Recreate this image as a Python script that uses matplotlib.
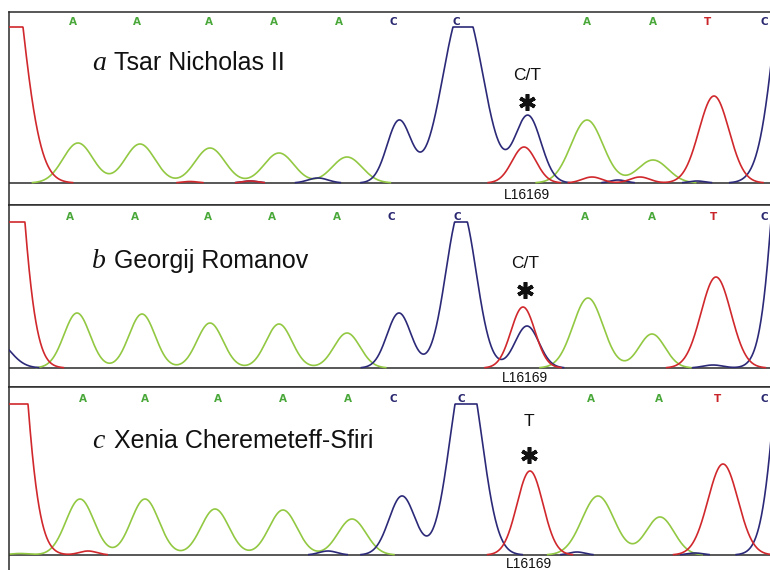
import numpy as np
import matplotlib
matplotlib.use("Agg")
import matplotlib.pyplot as plt

# ---------------- data (peak tables) ----------------
# each peak: (scan position, height above baseline, width)
A_GREEN = [(78, 40, 15), (140, 39, 15), (210, 35, 15), (279, 30, 15), (347, 26, 15),
           (587, 63, 16), (653, 23, 15)]
A_RED = [(0, 302, 20), (190, 1.5, 8), (250, 2, 8), (524, 36, 12), (592, 6, 10),
         (640, 6, 10), (714, 87, 15)]
A_BLUE = [(250, 2, 8), (318, 5, 10), (399, 62, 12), (463, 177, 20), (528, 67, 13),
          (618, 3, 8), (697, 2, 8), (795, 289, 18)]

B_GREEN = [(77, 55, 13), (142, 54, 13), (210, 45, 13), (279, 44, 13), (347, 35, 13),
           (588, 70, 15), (652, 34, 13)]
B_RED = [(0, 428, 17), (523, 61, 12), (716, 91, 15)]
B_BLUE = [(-5, 28, 15), (399, 55, 12), (461, 160, 15), (527, 42, 12), (713, 3, 10),
          (795, 458, 16)]

C_GREEN = [(20, 1.5, 10), (80, 56, 14), (145, 56, 14), (215, 46, 14), (283, 45, 14),
           (352, 36, 14), (598, 59, 16), (660, 38, 14)]
C_RED = [(0, 507, 18), (88, 4, 9), (530, 84, 13), (723, 91, 15)]
C_BLUE = [(328, 4, 9), (402, 59, 13), (466, 191, 16), (577, 3, 8), (695, 2, 8),
          (795, 356, 16)]

CLIP_LEVELS = [156, 146, 151]

BASES = ["A", "A", "A", "A", "A", "C", "C", "A", "A", "T", "C"]
A_BASE_POS = [73, 137, 209, 274, 339, 393, 456, 587, 653, 708, 764]
B_BASE_POS = [70, 135, 208, 272, 337, 391, 457, 585, 652, 713, 764]
C_BASE_POS = [83, 145, 218, 283, 348, 393, 461, 591, 659, 717, 764]

LETTERS = ["a", "b", "c"]
NAMES = ["Tsar Nicholas II", "Georgij Romanov", "Xenia Cheremeteff-Sfiri"]
CALLS = ["C/T", "C/T", "T"]
SNP_POS = [527, 525, 529]
SITE = "L16169"

# ---------------- styling / layout ----------------
W, H = 770, 570
GREEN, RED, BLUE = "#92c842", "#d0282c", "#2c2a78"
BASE_COL = {"A": "#4aa83a", "C": "#28266e", "T": "#c8242a"}
EDGE = "#2a2a2a"

# panel geometry in pixels: top line, baseline, strip bottom
PANELS = [(12, 183, 205), (205, 368, 387), (387, 555, 572)]
LETTER_ROW = [161, 151, 156]      # height of base-call row above baseline
TITLE_Y = [113, 100, 107]
CALL_Y = [108, 104, 133]
STAR_Y = [81, 78, 100]
SITE_Y = [-12, -10, -9]

greens = [A_GREEN, B_GREEN, C_GREEN]
reds = [A_RED, B_RED, C_RED]
blues = [A_BLUE, B_BLUE, C_BLUE]
base_pos = [A_BASE_POS, B_BASE_POS, C_BASE_POS]

fig = plt.figure(figsize=(W / 100, H / 100), dpi=100)
fig.patch.set_facecolor("white")

x = np.linspace(9, 775, 3000)


def trace(peaks, clip):
    y = np.zeros_like(x)
    for c, h, w in peaks:
        y += h * np.exp(-(x - c) ** 2 / (2.0 * w ** 2))
    y = np.minimum(y, clip)
    return np.where(y < 0.4, np.nan, y)


for i, (top, base, bot) in enumerate(PANELS):
    left_px, right_px = 9, 775
    ax = fig.add_axes([left_px / W, 1 - bot / H, (right_px - left_px) / W, (bot - top) / H])
    ax.set_xlim(left_px, right_px)
    ax.set_ylim(-(bot - base), base - top)
    ax.set_xticks([])
    ax.set_yticks([])
    for s in ["top", "left", "bottom"]:
        ax.spines[s].set_color(EDGE)
        ax.spines[s].set_linewidth(1.1)
    ax.spines["right"].set_visible(False)
    ax.axhline(0, color=EDGE, lw=1.1, zorder=1)

    clip = CLIP_LEVELS[i]
    ax.plot(x, trace(greens[i], clip), color=GREEN, lw=1.2, zorder=2)
    ax.plot(x, trace(blues[i], clip), color=BLUE, lw=1.2, zorder=3)
    ax.plot(x, trace(reds[i], clip), color=RED, lw=1.2, zorder=3)

    for b, p in zip(BASES, base_pos[i]):
        ax.text(p, LETTER_ROW[i], b, color=BASE_COL[b], fontsize=7.5, fontweight="bold",
                ha="center", va="center", family="DejaVu Sans", clip_on=False)

    ax.text(92, TITLE_Y[i], LETTERS[i], fontsize=20, style="italic",
            family="Liberation Serif", ha="left", va="baseline", color="#111")
    ax.text(114, TITLE_Y[i], NAMES[i], fontsize=18, family="Liberation Sans",
            ha="left", va="baseline", color="#111")

    ax.text(SNP_POS[i], CALL_Y[i], CALLS[i], fontsize=12.5, family="Liberation Sans",
            ha="center", va="center", color="#111")
    ax.plot([SNP_POS[i]], [STAR_Y[i]], marker=(6, 2, 0), markersize=12,
            markeredgewidth=2.6, color="#111", zorder=4)
    ax.text(SNP_POS[i], SITE_Y[i], SITE, fontsize=10,
            family="Liberation Sans", ha="center", va="center", color="#111")

fig.savefig("out.png", dpi=100, facecolor="white")
